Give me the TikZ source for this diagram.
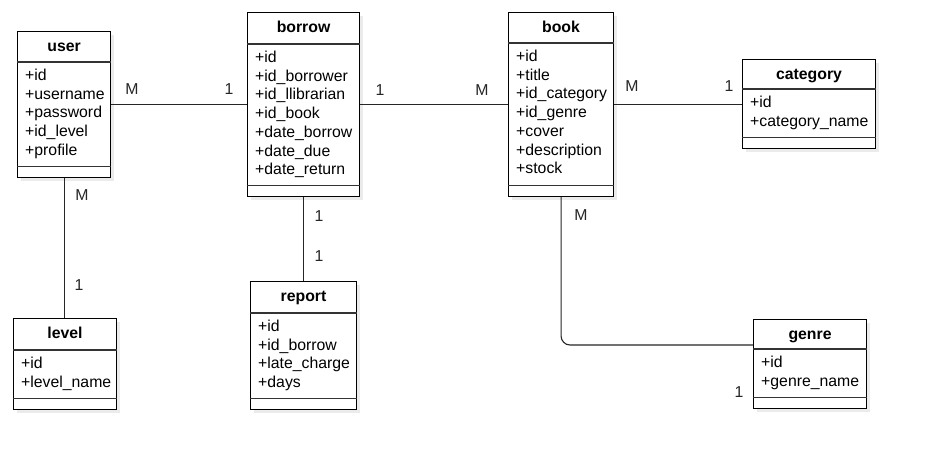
\documentclass[tikz,border=0pt]{standalone}
\usepackage{fontspec}
\setmainfont{Liberation Sans}
\tikzset{
  classbox/.style={draw=black, line width=1.1pt, fill=white, inner sep=0pt, anchor=north west},
  shadowbox/.style={fill=black!8, draw=none},
  sepline/.style={draw=black!80, line width=1.1pt},
  titletext/.style={font=\fontsize{15.8}{18.7}\selectfont\bfseries, anchor=base, inner sep=0pt},
  attrtext/.style={font=\fontsize{15.8}{18.7}\selectfont, anchor=base west, inner sep=0pt},
  multtext/.style={font=\fontsize{15.8}{18.7}\selectfont, text=black!85, inner sep=0pt},
  conn/.style={line width=1.1pt, draw=black!85},
}
% #1 name, #2 x, #3 y, #4 width, #5 height, #6 header height, #7 title, #8 attributes
\newcommand\umlclass[8]{%
  \fill[shadowbox] (#2+4,#3+4) rectangle ++(#4,#5);
  \node[classbox, minimum width=#4pt, minimum height=#5pt] (#1) at (#2,#3) {};
  \draw[sepline] ([yshift=-#6pt]#1.north west) -- ([yshift=-#6pt]#1.north east);
  \draw[sepline] ([yshift=11.5pt]#1.south west) -- ([yshift=11.5pt]#1.south east);
  \node[titletext] (#1-t) at ([yshift=-20.5pt]#1.north) {#7};
  \foreach \a [count=\i from 0] in {#8}
    \node[attrtext] (#1-a\i) at ([xshift=8pt,yshift={-(#6+18.5+\i*18.7)*1pt}]#1.north west) {\a};
}
\begin{document}
\begin{tikzpicture}[x=1pt,y=-1pt]
\fill[white] (0,0) rectangle (925,458);
\useasboundingbox (0,0) rectangle (925,458);

\umlclass{user}{17}{31}{93}{146}{31}{user}{+id,+username,+password,+id\_level,+profile}
\umlclass{borrow}{247}{12}{112}{184}{32}{borrow}{+id,+id\_borrower,+id\_llibrarian,+id\_book,+date\_borrow,+date\_due,+date\_return}
\umlclass{book}{508}{12}{105}{184}{31}{book}{+id,+title,+id\_category,+id\_genre,+cover,+description,+stock}
\umlclass{category}{742}{59}{133}{89}{30}{category}{+id,+category\_name}
\umlclass{level}{13}{318}{103}{91}{32}{level}{+id,+level\_name}
\umlclass{report}{250}{281}{106}{128}{32}{report}{+id,+id\_borrow,+late\_charge,+days}
\umlclass{genre}{753}{319}{113}{89}{30}{genre}{+id,+genre\_name}

\draw[conn] (user.east) -- (borrow.west);
\draw[conn] (borrow.east) -- (book.west);
\draw[conn] (book.east) -- (book.east -| category.west);
\draw[conn] (user.south) -- (user.south |- level.north);
\draw[conn] (borrow.south) -- (report.north);
\draw[conn, rounded corners=9pt] (book.south) |- ([yshift=-26pt]genre.north west);

\node[multtext] (m1) at (132,89) {M};
\node[multtext] (m2) at (229,89) {1};
\node[multtext] (m3) at (380,90) {1};
\node[multtext] (m4) at (482,90) {M};
\node[multtext] (m5) at (632,86) {M};
\node[multtext] (m6) at (729,86) {1};
\node[multtext] (m7) at (82,195) {M};
\node[multtext] (m8) at (79,285) {1};
\node[multtext] (m9) at (319,216) {1};
\node[multtext] (m10) at (319,256) {1};
\node[multtext] (m11) at (581,215) {M};
\node[multtext] (m12) at (739,392) {1};
\end{tikzpicture}
\end{document}
